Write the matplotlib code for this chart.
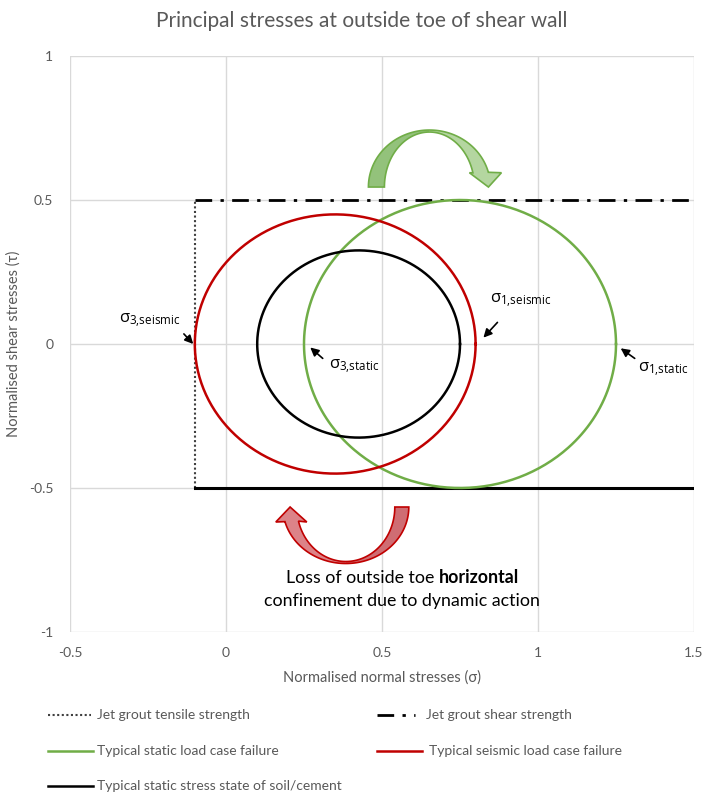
import numpy as np
import matplotlib
matplotlib.use("Agg")
import matplotlib.pyplot as plt
import matplotlib.transforms as mtransforms
from matplotlib.patches import Polygon
from matplotlib.lines import Line2D

plt.rcParams['font.family'] = ['Lato', 'DejaVu Sans']
plt.rcParams['mathtext.fontset'] = 'custom'
plt.rcParams['mathtext.rm'] = 'Open Sans'

# Mohr circles: principal stresses (sigma3, sigma1)
circle_names = ["Typical static load case failure",
                "Typical seismic load case failure",
                "Typical static stress state of soil/cement"]
sigma3 = [0.25, -0.10, 0.10]
sigma1 = [1.25, 0.80, 0.75]
circle_colors = ["#70ad47", "#c00000", "#000000"]

# Jet grout strength envelopes
tensile_x = [-0.1, -0.1]
tensile_y = [-0.5, 0.5]
shear_x = [-0.1, 1.5]
shear_y = [0.5, 0.5]
base_x = [-0.1, 1.5]
base_y = [-0.5, -0.5]

x_ticks = [-0.5, 0, 0.5, 1, 1.5]
x_labels = ["-0.5", "0", "0.5", "1", "1.5"]
y_ticks = [-1, -0.5, 0, 0.5, 1]
y_labels = ["-1", "-0.5", "0", "0.5", "1"]

grey = "#595959"
W, H = 704, 796

dotted = (0, (1, 1.2))
dash_dot = (0, (6, 3, 1.2, 3))

fig = plt.figure(figsize=(W / 100, H / 100), dpi=100)
ax = fig.add_axes([70 / W, 1 - 632 / H, 624 / W, 576 / H])
ax.set_xlim(-0.5, 1.5)
ax.set_ylim(-1, 1)
ax.set_xticks(x_ticks, x_labels)
ax.set_yticks(y_ticks, y_labels)
ax.tick_params(length=0, labelsize=10, labelcolor=grey)
ax.tick_params(axis="x", pad=11)
ax.tick_params(axis="y", pad=12)
ax.grid(True, color="#d9d9d9", lw=1)
ax.set_axisbelow(True)
for s in ax.spines.values():
    s.set_visible(False)

theta = np.linspace(0, 2 * np.pi, 400)
handles = {}
for name, s3, s1, c in zip(circle_names, sigma3, sigma1, circle_colors):
    ctr = (s1 + s3) / 2
    r = (s1 - s3) / 2
    h, = ax.plot(ctr + r * np.cos(theta), r * np.sin(theta), color=c, lw=1.8,
                 zorder=3)
    handles[name] = h

h_t, = ax.plot(tensile_x, tensile_y, color="#404040", lw=1.5, ls=dotted,
               zorder=2)
h_s, = ax.plot(shear_x, shear_y, color="black", lw=2, ls=dash_dot, zorder=2)
ax.plot(base_x, base_y, color="black", lw=2.2, zorder=2)


def curved_arrow(center, outer, inner, t_start, t_mid, t_end, head,
                 light, dark, edge):
    """Curved block arrow drawn in pixel offsets around a data-space anchor."""
    trans = (mtransforms.Affine2D().scale(fig.dpi / 100)
             + mtransforms.ScaledTranslation(center[0], center[1], ax.transData))

    def band(ta, tb):
        t = np.radians(np.linspace(ta, tb, 80))
        o = np.column_stack([outer[0] * np.cos(t), outer[1] * np.sin(t)])
        i = np.column_stack([inner[0] * np.cos(t), inner[1] * np.sin(t)])
        return o, i

    o1, i1 = band(t_start, t_mid)
    o2, i2 = band(t_mid, t_end)
    back = np.vstack([o1, i1[::-1]])
    front = np.vstack([o2, np.array(head), i2[::-1]])
    outline = np.vstack([o1, o2, np.array(head), i2[::-1], i1[::-1]])
    ax.add_patch(Polygon(back, closed=True, transform=trans, facecolor=dark,
                         edgecolor="none", zorder=4))
    ax.add_patch(Polygon(front, closed=True, transform=trans, facecolor=light,
                         edgecolor="none", zorder=4))
    ax.add_patch(Polygon(outline, closed=True, transform=trans, facecolor="none",
                         edgecolor=edge, lw=1.2, joinstyle="miter", zorder=4))


# Green arrow over the top
curved_arrow((0.652, 0.545), (61, 57), (45, 55), 180, 90, 15,
             [(72, 14.3), (59, 0), (40, 14.3)],
             "#b4d6a0", "#93c27b", "#70ad47")
# Red arrow underneath
curved_arrow((0.384, -0.566), (63, 56.5), (49, 54.5), 360, 270, 195,
             [(-70, -15), (-55.7, 0), (-39, -15)],
             "#dc8388", "#cf6d73", "#c00000")

# Principal stress labels
arrow_kw = dict(arrowstyle="-|>,head_length=0.5,head_width=0.25", color="black",
                lw=1.2, shrinkA=0, shrinkB=0)
labels = [
    (r"$\mathrm{σ_{3{,}seismic}}$", (-0.105, 0.0), (-0.245, 0.08), (-0.135, 0.035)),
    (r"$\mathrm{σ_{3{,}static}}$", (0.27, -0.012), (0.41, -0.08), (0.31, -0.05)),
    (r"$\mathrm{σ_{1{,}seismic}}$", (0.825, 0.022), (0.945, 0.15), (0.87, 0.075)),
    (r"$\mathrm{σ_{1{,}static}}$", (1.265, -0.015), (1.40, -0.09), (1.31, -0.05)),
]
for txt, tip, tpos, tail in labels:
    ax.text(tpos[0], tpos[1], txt, fontsize=12, ha="center", va="center",
            color="black", zorder=5)
    ax.annotate("", xy=tip, xytext=tail, arrowprops=arrow_kw, zorder=5)

# Explanatory note, with the key word in bold
note_x = 0.565
note_size = 12.8
t1 = ax.text(note_x, -0.812, "Loss of outside toe", fontsize=note_size, ha="left",
             va="center", color="black")
t2 = ax.text(note_x, -0.812, "horizontal", fontsize=note_size, ha="left",
             va="center", color="black", weight="bold")
ax.text(note_x, -0.893, "confinement due to dynamic action", fontsize=note_size,
        ha="center", va="center", color="black")
renderer = fig.canvas.get_renderer()
w1 = t1.get_window_extent(renderer).width
w2 = t2.get_window_extent(renderer).width
gap = 4.5
cx_disp = ax.transData.transform((note_x, 0))[0]
left_disp = cx_disp - (w1 + gap + w2) / 2
inv = ax.transData.inverted()
t1.set_x(inv.transform((left_disp, 0))[0])
t2.set_x(inv.transform((left_disp + w1 + gap, 0))[0])

fig.text(362 / W, 1 - 21 / H, "Principal stresses at outside toe of shear wall",
         ha="center", va="center", fontsize=15, color=grey)
ax.set_xlabel("Normalised normal stresses (σ)", fontsize=10.5, color=grey,
              labelpad=8)
ax.set_ylabel("Normalised shear stresses (τ)", fontsize=10.5, color=grey,
              labelpad=6)

# Legend
legend_items = [
    (h_t, dotted, "Jet grout tensile strength", 48, 91, 97, 715),
    (h_s, dash_dot, "Jet grout shear strength", 377, 415, 426, 715),
    (handles[circle_names[0]], "-", circle_names[0], 48, 93, 97, 751),
    (handles[circle_names[1]], "-", circle_names[1], 377, 422, 429, 751),
    (handles[circle_names[2]], "-", circle_names[2], 48, 93, 97, 786),
]
for h, style, lab, x0, x1, xt, py in legend_items:
    ln = Line2D([x0 / W, x1 / W], [1 - py / H, 1 - py / H],
                transform=fig.transFigure, color=h.get_color(),
                lw=h.get_linewidth(), ls=style)
    fig.add_artist(ln)
    fig.text(xt / W, 1 - py / H, lab, ha="left", va="center",
             fontsize=10, color=grey)

fig.savefig("out.png", dpi=100)
